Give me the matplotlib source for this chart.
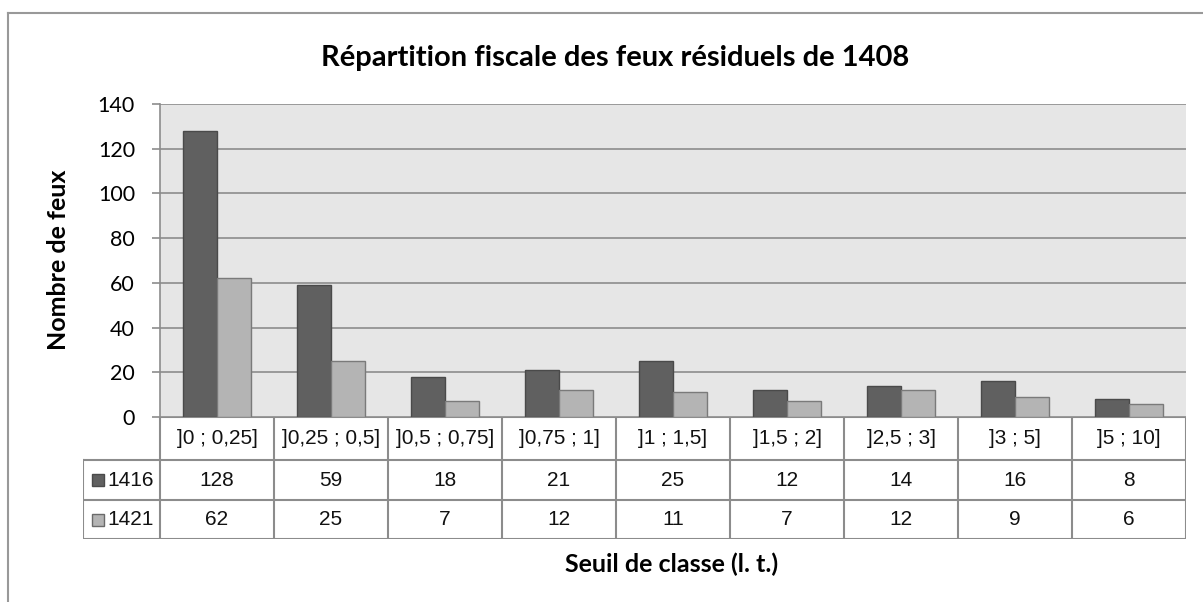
import matplotlib
matplotlib.use("Agg")
import matplotlib.pyplot as plt
from matplotlib.lines import Line2D
from matplotlib.patches import Rectangle

# data
categories = ["]0 ; 0,25]", "]0,25 ; 0,5]", "]0,5 ; 0,75]", "]0,75 ; 1]",
              "]1 ; 1,5]", "]1,5 ; 2]", "]2,5 ; 3]", "]3 ; 5]", "]5 ; 10]"]
series_names = ["1416", "1421"]
vals_1416 = [128, 59, 18, 21, 25, 12, 14, 16, 8]
vals_1421 = [62, 25, 7, 12, 11, 7, 12, 9, 6]
y_ticks = [0, 20, 40, 60, 80, 100, 120, 140]

TITLE = "Répartition fiscale des feux résiduels de 1408"
YLABEL = "Nombre de feux"
XLABEL = "Seuil de classe (l. t.)"

DARK = "#606060"
LIGHT = "#b4b4b4"
LINE = "#8c8c8c"

HEAD = ["Lato", "Open Sans", "DejaVu Sans"]
TABF = ["Liberation Sans Narrow", "Liberation Sans", "DejaVu Sans"]

W, H = 1203, 602
fig = plt.figure(figsize=(W / 100, H / 100), dpi=100)


def fx(px):
    return px / W


def fy(py):
    return 1 - py / H


# plot area (pixel layout)
left, right, top, bottom = 160, 1186, 104, 417
ax = fig.add_axes([fx(left), fy(bottom), (right - left) / W, (bottom - top) / H])
ax.set_facecolor("#e6e6e6")

n = len(categories)
x = list(range(n))
bw = 0.295
ax.bar([i - bw / 2 for i in x], vals_1416, width=bw, color=DARK,
       edgecolor="#4a4a4a", linewidth=1.0, zorder=3)
ax.bar([i + bw / 2 for i in x], vals_1421, width=bw, color=LIGHT,
       edgecolor="#7a7a7a", linewidth=1.0, zorder=3)

ax.set_xlim(-0.5, n - 0.5)
ax.set_ylim(0, 140)
ax.set_yticks(y_ticks)
ax.set_yticklabels([str(v) for v in y_ticks], fontsize=15.5, family=HEAD)
ax.set_xticks([])
ax.yaxis.grid(True, color=LINE, linewidth=1.2, zorder=0)
ax.set_axisbelow(True)
ax.tick_params(axis="y", length=6, width=1.2, color=LINE, pad=12)
for s in ["top", "right", "bottom"]:
    ax.spines[s].set_visible(False)
ax.spines["left"].set_color(LINE)
ax.spines["left"].set_linewidth(1.2)

# data table below the plot
tab_left, tab_bottom = 83, 539
rows_y = [417, 460, 500, 539]
legw = (left - tab_left) / (right - left) * n
tax = fig.add_axes([fx(tab_left), fy(tab_bottom), (right - tab_left) / W,
                    (tab_bottom - bottom) / H])
tax.set_xlim(-0.5 - legw, n - 0.5)
tax.set_ylim(tab_bottom, bottom)
tax.axis("off")

lk = dict(color=LINE, linewidth=1.5, solid_capstyle="projecting")
# horizontal lines
tax.plot([-0.5, n - 0.5], [rows_y[0], rows_y[0]], **lk)
for yy in rows_y[1:]:
    tax.plot([-0.5 - legw, n - 0.5], [yy, yy], **lk)
# vertical lines
for i in range(n + 1):
    tax.plot([i - 0.5, i - 0.5], [rows_y[0], rows_y[-1]], **lk)
tax.plot([-0.5 - legw, -0.5 - legw], [rows_y[1], rows_y[-1]], **lk)

tk = dict(ha="center", va="center", fontsize=15, family=TABF, color="#111111")
for i, c in enumerate(categories):
    tax.text(i, (rows_y[0] + rows_y[1]) / 2, c, **tk)
for r, (name, vals, col, ec) in enumerate([(series_names[0], vals_1416, DARK, "#4a4a4a"),
                                           (series_names[1], vals_1421, LIGHT, "#6a6a6a")]):
    yc = (rows_y[r + 1] + rows_y[r + 2]) / 2
    for i, v in enumerate(vals):
        tax.text(i, yc, str(v), **tk)
    sq = 12 / 114
    x0 = -0.5 - legw + 9 / 114
    tax.add_patch(Rectangle((x0, yc - 6), sq, 12, facecolor=col, edgecolor=ec,
                            linewidth=1.0, clip_on=False))
    tax.text(x0 + sq + 3 / 114, yc, name, ha="left", va="center", fontsize=15,
             family=TABF, color="#111111")

# titles
fig.text(fx(615), fy(58), TITLE, ha="center", va="center", fontsize=21,
         fontweight="bold", family=HEAD)
fig.text(fx(58), fy(260), YLABEL, ha="center", va="center", rotation=90,
         fontsize=18, fontweight="bold", family=HEAD)
fig.text(fx(672), fy(564), XLABEL, ha="center", va="center", fontsize=18,
         fontweight="bold", family=HEAD)

# outer chart frame (only left and top edges visible)
fig.add_artist(Line2D([fx(8), fx(8)], [fy(13), 0], color="#999999", linewidth=1.5,
                      transform=fig.transFigure))
fig.add_artist(Line2D([fx(8), 1], [fy(13), fy(13)], color="#999999", linewidth=1.5,
                      transform=fig.transFigure))

fig.savefig("out.png", dpi=100)
